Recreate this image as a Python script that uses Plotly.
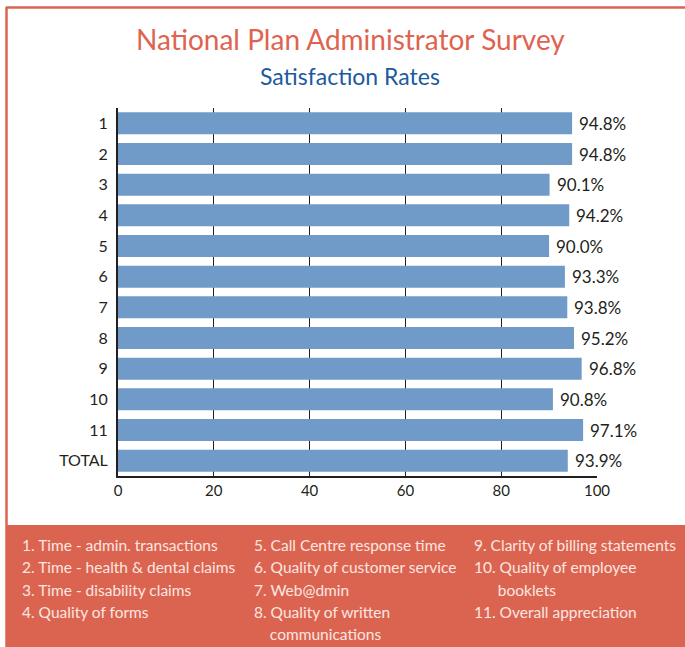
import plotly.graph_objects as go

categories = ["1", "2", "3", "4", "5", "6", "7", "8", "9", "10", "11", "TOTAL"]
values = [94.8, 94.8, 90.1, 94.2, 90.0, 93.3, 93.8, 95.2, 96.8, 90.8, 97.1, 93.9]
x_ticks = [0, 20, 40, 60, 80, 100]

legend_col1 = ["1. Time - admin. transactions", "2. Time - health & dental claims",
               "3. Time - disability claims", "4. Quality of forms"]
legend_col2 = ["5. Call Centre response time", "6. Quality of customer service",
               "7. Web@dmin", "8. Quality of written", "    communications"]
legend_col3 = ["9. Clarity of billing statements", "10. Quality of employee",
               "      booklets", "11. Overall appreciation"]

W, H = 685, 647
L, R, T, B = 118, 597, 108, 476
FONT = "Lato"
SALMON = "#db6450"
DARK = "#231f20"

def px(x):
    return (x - L) / (R - L)

def py(y):
    return (B - y) / (B - T)

fig = go.Figure()
fig.add_trace(go.Bar(
    x=values, y=categories, orientation="h",
    marker=dict(color="#709bc8", line=dict(width=0)),
    width=0.72,
))

annotations = []
for i, v in enumerate(values):
    annotations.append(dict(x=v, y=i, xref="x", yref="y", text=f"{v:.1f}%",
                            showarrow=False, xanchor="left", xshift=5,
                            font=dict(family=FONT, size=17, color=DARK)))

annotations.append(dict(x=px(350), y=py(39), xref="paper", yref="paper",
                        text="National Plan Administrator Survey", showarrow=False,
                        xanchor="center", yanchor="middle",
                        font=dict(family=FONT, size=28, color="#e0634f")))
annotations.append(dict(x=px(350), y=py(76), xref="paper", yref="paper",
                        text="Satisfaction Rates", showarrow=False,
                        xanchor="center", yanchor="middle",
                        font=dict(family=FONT, size=23, color="#1c5a9e")))

row_y = [545, 567, 590, 612, 634]
for col_x, items in [(20, legend_col1), (252, legend_col2), (472, legend_col3)]:
    for i, t in enumerate(items):
        annotations.append(dict(x=px(col_x), y=py(row_y[i]), xref="paper", yref="paper",
                                text=t.replace(" ", "&nbsp;") if t.startswith(" ") else t,
                                showarrow=False, xanchor="left", yanchor="middle",
                                font=dict(family=FONT, size=15.5, color="#fbe6e1")))

shapes = [
    dict(type="rect", xref="paper", yref="paper", x0=px(6), x1=px(685), y0=py(525), y1=py(647),
         fillcolor=SALMON, line=dict(width=0), layer="below"),
    dict(type="line", xref="paper", yref="paper", x0=px(6), x1=px(685), y0=py(7.5), y1=py(7.5),
         line=dict(color=SALMON, width=2.5)),
    dict(type="line", xref="paper", yref="paper", x0=px(6.5), x1=px(6.5), y0=py(7), y1=py(647),
         line=dict(color=SALMON, width=2.5)),
]

fig.update_layout(
    width=W, height=H,
    margin=dict(l=L, r=W - R, t=T, b=H - B, pad=0),
    paper_bgcolor="white", plot_bgcolor="white",
    showlegend=False,
    annotations=annotations,
    shapes=shapes,
    xaxis=dict(range=[0, 100], tickvals=x_ticks, showgrid=True, gridcolor=DARK, gridwidth=1,
               showline=True, linecolor=DARK, linewidth=1.5, zeroline=False, ticks="",
               tickfont=dict(family=FONT, size=15, color=DARK), fixedrange=True),
    yaxis=dict(autorange="reversed", showline=True, linecolor=DARK, linewidth=2,
               ticks="outside", ticklen=5, tickcolor="rgba(0,0,0,0)",
               tickfont=dict(family=FONT, size=16, color=DARK), fixedrange=True),
)

fig.write_html("out.html", config={"displayModeBar": False},
               post_script="document.body.style.margin='0';document.body.style.overflow='hidden';")
